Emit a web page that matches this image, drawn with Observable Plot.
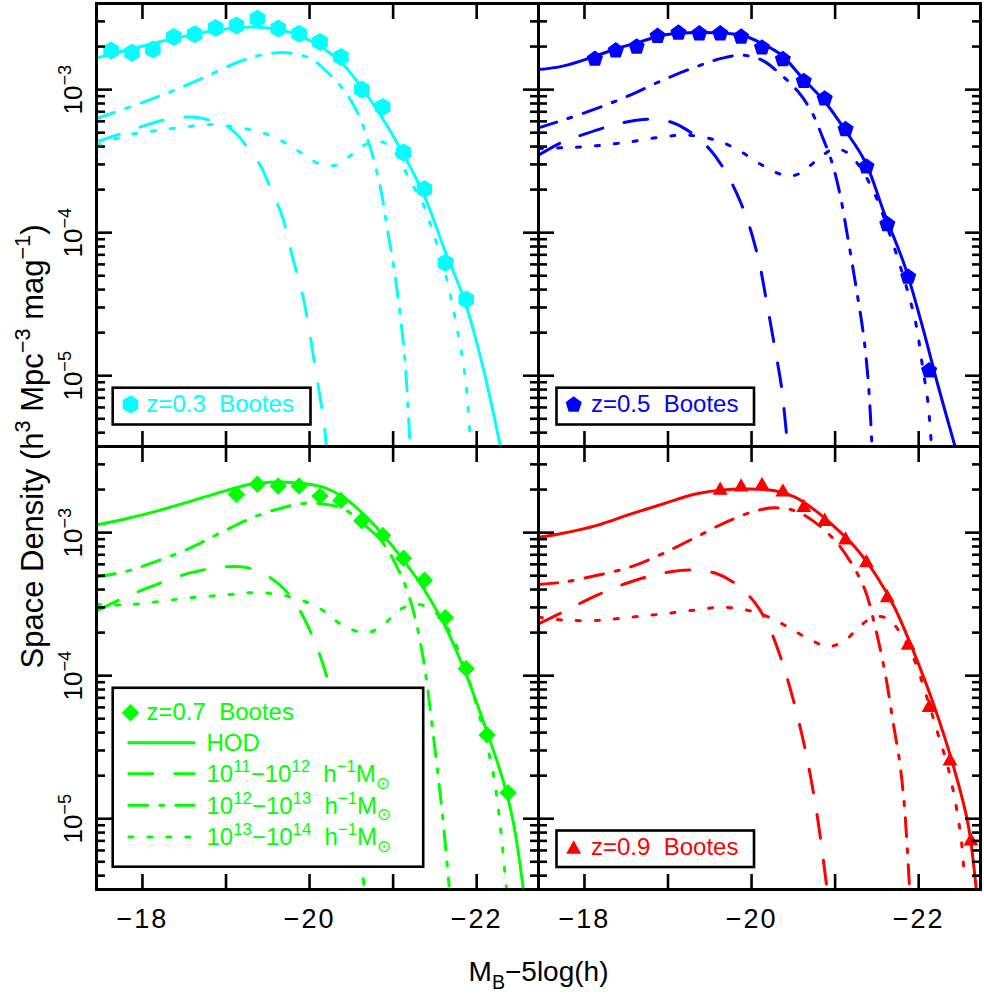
<!DOCTYPE html>
<html>
<head>
<meta charset="utf-8">
<script src="https://cdn.jsdelivr.net/npm/d3@7"></script>
<script src="https://cdn.jsdelivr.net/npm/@observablehq/plot@0.6"></script>
<style>
html, body { margin: 0; padding: 0; background: #fff; }
#chart { position: relative; width: 984px; height: 996px; }
svg text { white-space: pre; }
g[aria-label="legend label"] text { letter-spacing: 1.2px; }
g[aria-label="x-axis tick label"] text { letter-spacing: 2px; }
g[aria-label="y title"] text { letter-spacing: 2.3px; }
g[aria-label="x title"] text { letter-spacing: 1.2px; }
</style>
</head>
<body>
<div id="chart"></div>
<script>
// ---------------- DATA ----------------
// x: M_B - 5 log(h); y: space density (h^3 Mpc^-3 mag^-1)

// z = 0.3 Bootes
const obsMag03 = [-17.625,-17.875,-18.125,-18.375,-18.625,-18.875,-19.125,-19.375,-19.625,-19.875,-20.125,-20.375,-20.625,-20.875,-21.125,-21.375,-21.625,-21.875];
const obsPhi03 = [1.88e-3,1.81e-3,1.91e-3,2.33e-3,2.44e-3,2.70e-3,2.81e-3,3.13e-3,2.67e-3,2.46e-3,2.15e-3,1.69e-3,1.00e-3,7.57e-4,3.63e-4,2.01e-4,6.15e-5,3.41e-5];
const hod03 = [[-17.45,1.66e-3],[-17.87,1.93e-3],[-18.37,2.27e-3],[-18.87,2.59e-3],[-19.29,2.74e-3],[-19.61,2.64e-3],[-19.87,2.40e-3],[-20.17,1.93e-3],[-20.41,1.48e-3],[-20.62,1.04e-3],[-20.85,6.62e-4],[-21.13,3.48e-4],[-21.37,1.83e-4],[-21.61,7.76e-5],[-21.86,3.29e-5],[-22.08,1.12e-5],[-22.28,3.28e-6]];
const m11_03 = [[-17.45,4.31e-4],[-17.98,5.48e-4],[-18.24,6.11e-4],[-18.54,6.44e-4],[-18.70,6.34e-4],[-18.84,6.01e-4],[-19.02,5.48e-4],[-19.14,4.80e-4],[-19.25,3.98e-4],[-19.41,2.96e-4],[-19.55,1.93e-4],[-19.67,1.32e-4],[-19.79,6.97e-5],[-19.93,3.38e-5],[-20.05,1.32e-5],[-20.17,4.78e-6],[-20.20,3.3e-6]];
const m12_03 = [[-17.45,6.27e-4],[-18.02,8.20e-4],[-18.38,9.89e-4],[-18.70,1.19e-3],[-19.10,1.52e-3],[-19.37,1.72e-3],[-19.61,1.81e-3],[-19.77,1.80e-3],[-20.01,1.65e-3],[-20.21,1.33e-3],[-20.41,9.89e-4],[-20.57,6.98e-4],[-20.73,3.87e-4],[-20.85,2.03e-4],[-20.93,1.07e-4],[-21.01,5.62e-5],[-21.09,2.51e-5],[-21.15,1.12e-5],[-21.20,3.46e-6]];
const m13_03 = [[-17.45,4.08e-4],[-17.82,4.80e-4],[-18.20,5.20e-4],[-18.62,5.57e-4],[-18.84,5.70e-4],[-19.02,5.57e-4],[-19.21,5.35e-4],[-19.41,5.06e-4],[-19.61,4.55e-4],[-19.77,4.05e-4],[-19.93,3.52e-4],[-20.11,3.04e-4],[-20.31,2.96e-4],[-20.47,3.39e-4],[-20.65,4.08e-4],[-20.81,4.36e-4],[-20.95,4.08e-4],[-21.09,3.13e-4],[-21.21,2.26e-4],[-21.33,1.73e-4],[-21.49,9.62e-5],[-21.63,5.05e-5],[-21.75,2.38e-5],[-21.86,1.01e-5],[-21.92,3.85e-6]];

// z = 0.5 Bootes
const obsMag05 = [-18.125,-18.375,-18.625,-18.875,-19.125,-19.375,-19.625,-19.875,-20.125,-20.375,-20.625,-20.875,-21.125,-21.375,-21.625,-21.875,-22.125];
const obsPhi05 = [1.66e-3,1.90e-3,2.02e-3,2.40e-3,2.53e-3,2.50e-3,2.50e-3,2.37e-3,1.99e-3,1.65e-3,1.16e-3,8.75e-4,5.35e-4,2.93e-4,1.16e-4,4.97e-5,1.10e-5];
const hod05 = [[-17.45,1.38e-3],[-17.74,1.46e-3],[-18.06,1.66e-3],[-18.38,1.93e-3],[-18.66,2.15e-3],[-18.93,2.40e-3],[-19.25,2.50e-3],[-19.57,2.50e-3],[-19.89,2.40e-3],[-20.13,2.09e-3],[-20.36,1.74e-3],[-20.60,1.22e-3],[-20.88,8.20e-4],[-21.12,5.20e-4],[-21.36,3.13e-4],[-21.59,1.36e-4],[-21.83,5.93e-5],[-22.03,2.38e-5],[-22.23,8.61e-6],[-22.43,3.28e-6]];
const m11_05 = [[-17.45,3.48e-4],[-17.74,4.31e-4],[-18.02,4.93e-4],[-18.34,5.64e-4],[-18.62,6.11e-4],[-18.77,6.21e-4],[-19.05,5.89e-4],[-19.29,4.93e-4],[-19.51,3.77e-4],[-19.69,2.66e-4],[-19.85,1.73e-4],[-19.97,1.13e-4],[-20.09,6.25e-5],[-20.18,3.29e-5],[-20.28,1.55e-5],[-20.36,8.17e-6],[-20.43,3.28e-6]];
const m12_05 = [[-17.45,5.40e-4],[-17.74,6.11e-4],[-18.14,7.36e-4],[-18.54,9.12e-4],[-18.93,1.16e-3],[-19.33,1.44e-3],[-19.65,1.66e-3],[-19.89,1.74e-3],[-20.13,1.60e-3],[-20.36,1.26e-3],[-20.56,9.64e-4],[-20.72,6.98e-4],[-20.84,4.80e-4],[-20.96,3.13e-4],[-21.06,1.83e-4],[-21.16,8.63e-5],[-21.26,3.86e-5],[-21.34,1.92e-5],[-21.40,8.61e-6],[-21.44,3.28e-6]];
const m13_05 = [[-17.45,3.87e-4],[-17.74,3.92e-4],[-18.14,4.05e-4],[-18.54,4.31e-4],[-18.93,4.67e-4],[-19.25,4.80e-4],[-19.57,4.43e-4],[-19.81,3.87e-4],[-20.13,2.96e-4],[-20.36,2.55e-4],[-20.52,2.52e-4],[-20.68,2.88e-4],[-20.84,3.44e-4],[-21.00,3.87e-4],[-21.16,3.57e-4],[-21.32,2.74e-4],[-21.48,1.83e-4],[-21.63,1.07e-4],[-21.75,6.61e-5],[-21.87,3.86e-5],[-21.97,2.26e-5],[-22.05,1.12e-5],[-22.11,6.58e-6],[-22.15,3.46e-6]];

// z = 0.7 Bootes
const obsMag07 = [-19.125,-19.375,-19.625,-19.875,-20.125,-20.375,-20.625,-20.875,-21.125,-21.375,-21.625,-21.875,-22.125,-22.375];
const obsPhi07 = [1.85e-3,2.18e-3,2.12e-3,2.12e-3,1.80e-3,1.68e-3,1.21e-3,9.57e-4,6.62e-4,4.65e-4,2.55e-4,1.12e-4,3.85e-5,1.52e-5];
const hod07 = [[-17.45,1.13e-3],[-17.78,1.24e-3],[-18.18,1.42e-3],[-18.58,1.66e-3],[-18.98,1.95e-3],[-19.29,2.18e-3],[-19.61,2.26e-3],[-19.93,2.20e-3],[-20.17,2.07e-3],[-20.41,1.76e-3],[-20.65,1.34e-3],[-20.89,9.48e-4],[-21.13,6.34e-4],[-21.37,4.02e-4],[-21.61,2.29e-4],[-21.84,1.14e-4],[-22.08,4.79e-5],[-22.32,1.82e-5],[-22.44,9.33e-6],[-22.56,3.16e-6]];
const m11_07 = [[-17.45,2.83e-4],[-17.78,3.51e-4],[-18.18,4.36e-4],[-18.58,5.25e-4],[-18.98,5.75e-4],[-19.25,5.69e-4],[-19.53,4.84e-4],[-19.77,3.61e-4],[-19.93,2.55e-4],[-20.09,1.57e-4],[-20.21,9.68e-5],[-20.33,5.37e-5],[-20.45,2.67e-5],[-20.55,1.19e-5],[-20.63,4.43e-6],[-20.65,3.48e-6]];
const m12_07 = [[-17.45,4.90e-4],[-17.78,5.31e-4],[-18.18,6.34e-4],[-18.58,7.85e-4],[-18.98,1.03e-3],[-19.37,1.31e-3],[-19.69,1.50e-3],[-19.93,1.60e-3],[-20.17,1.58e-3],[-20.41,1.46e-3],[-20.65,1.14e-3],[-20.89,8.28e-4],[-21.05,5.69e-4],[-21.17,3.91e-4],[-21.29,2.17e-4],[-21.39,1.02e-4],[-21.47,4.33e-5],[-21.55,1.74e-5],[-21.61,8.20e-6],[-21.67,3.38e-6]];
const m13_07 = [[-17.45,3.16e-4],[-17.78,3.12e-4],[-18.18,3.29e-4],[-18.58,3.51e-4],[-18.98,3.66e-4],[-19.29,3.80e-4],[-19.61,3.71e-4],[-19.93,3.33e-4],[-20.17,2.83e-4],[-20.41,2.22e-4],[-20.69,2.00e-4],[-20.89,2.29e-4],[-21.09,2.91e-4],[-21.29,3.16e-4],[-21.49,2.83e-4],[-21.65,2.17e-4],[-21.80,1.41e-4],[-21.96,7.40e-5],[-22.08,4.10e-5],[-22.20,2.04e-5],[-22.28,9.12e-6],[-22.34,4.08e-6],[-22.36,3.1e-6]];

// z = 0.9 Bootes
const obsMag09 = [-19.625,-19.875,-20.125,-20.375,-20.625,-20.875,-21.125,-21.375,-21.625,-21.875,-22.125,-22.375,-22.625];
const obsPhi09 = [2.05e-3,2.16e-3,2.21e-3,1.99e-3,1.55e-3,1.24e-3,9.18e-4,6.37e-4,3.63e-4,1.69e-4,6.19e-5,2.62e-5,7.24e-6];
const hod09 = [[-17.45,9.27e-4],[-17.74,9.89e-4],[-18.14,1.12e-3],[-18.54,1.34e-3],[-18.93,1.58e-3],[-19.33,1.86e-3],[-19.65,1.99e-3],[-19.97,2.02e-3],[-20.28,1.96e-3],[-20.52,1.77e-3],[-20.76,1.43e-3],[-21.00,1.09e-3],[-21.24,7.91e-4],[-21.48,5.14e-4],[-21.71,3.01e-4],[-21.95,1.42e-4],[-22.19,6.03e-5],[-22.43,2.18e-5],[-22.59,9.23e-6],[-22.69,3.16e-6]];
const m11_09 = [[-17.45,2.30e-4],[-17.74,2.78e-4],[-18.14,3.63e-4],[-18.54,4.50e-4],[-18.93,5.20e-4],[-19.25,5.48e-4],[-19.57,5.20e-4],[-19.81,4.38e-4],[-20.05,3.18e-4],[-20.21,2.18e-4],[-20.36,1.28e-4],[-20.48,7.46e-5],[-20.60,3.93e-5],[-20.70,2.06e-5],[-20.80,9.23e-6],[-20.90,3.33e-6]];
const m12_09 = [[-17.45,4.34e-4],[-17.74,4.50e-4],[-18.14,5.01e-4],[-18.54,5.73e-4],[-18.93,7.10e-4],[-19.33,9.27e-4],[-19.73,1.21e-3],[-20.05,1.42e-3],[-20.28,1.49e-3],[-20.52,1.42e-3],[-20.76,1.18e-3],[-21.00,8.79e-4],[-21.20,6.04e-4],[-21.36,3.94e-4],[-21.48,2.18e-4],[-21.60,1.03e-4],[-21.69,4.86e-5],[-21.77,2.55e-5],[-21.83,1.21e-5],[-21.89,3.33e-6]];
const m13_09 = [[-17.45,2.56e-4],[-17.74,2.45e-4],[-18.14,2.43e-4],[-18.54,2.56e-4],[-18.93,2.70e-4],[-19.33,2.88e-4],[-19.65,3.01e-4],[-19.97,2.85e-4],[-20.21,2.56e-4],[-20.44,2.18e-4],[-20.72,1.76e-4],[-20.92,1.60e-4],[-21.12,1.76e-4],[-21.28,2.18e-4],[-21.48,2.59e-4],[-21.63,2.49e-4],[-21.79,1.96e-4],[-21.95,1.28e-4],[-22.11,6.71e-5],[-22.23,3.93e-5],[-22.35,2.30e-5],[-22.45,1.21e-5],[-22.51,7.06e-6],[-22.55,3.71e-6]];

// Labels & ticks
const sampleLabels = ["z=0.3  Bootes", "z=0.5  Bootes", "z=0.7  Bootes", "z=0.9  Bootes"];
const componentLabels = ["HOD", "10^{11}−10^{12}  h^{−1}M_{⊙}", "10^{12}−10^{13}  h^{−1}M_{⊙}", "10^{13}−10^{14}  h^{−1}M_{⊙}"];
const xTicks = [-18, -19, -20, -21, -22];
const xTickLabels = [-18, -20, -22];
const yMajorTicks = [1e-5, 1e-4, 1e-3];
const yMinorTicks = [4e-6,5e-6,6e-6,7e-6,8e-6,9e-6, 2e-5,3e-5,4e-5,5e-5,6e-5,7e-5,8e-5,9e-5, 2e-4,3e-4,4e-4,5e-4,6e-4,7e-4,8e-4,9e-4, 2e-3,3e-3];
const xDomain = [-17.45, -22.74];
const yDomain = [3.2e-6, 4.0e-3];
const xTitle = "M_{B}−5log(h)";
const yTitle = "Space Density (h^{3} Mpc^{−3} mag^{−1})";

// ---------------- STYLE ----------------
const FONT = "'Liberation Sans', Arial, Helvetica, sans-serif";
const hexagon = {draw(c, size) { const r = Math.sqrt(size / Math.PI); for (let i = 0; i < 6; i++) { const a = Math.PI / 3 * i; const x = r * Math.sin(a), y = -r * Math.cos(a); i ? c.lineTo(x, y) : c.moveTo(x, y); } c.closePath(); }};
const pentagon = {draw(c, size) { const r = Math.sqrt(size / Math.PI); const sh = 0.095 * r; for (let i = 0; i < 5; i++) { const a = 2 * Math.PI / 5 * i; const x = r * Math.sin(a), y = -r * Math.cos(a) + sh; i ? c.lineTo(x, y) : c.moveTo(x, y); } c.closePath(); }};
const diamond = {draw(c, size) { const r = Math.sqrt(size / Math.PI); c.moveTo(0, -r); c.lineTo(r, 0); c.lineTo(0, r); c.lineTo(-r, 0); c.closePath(); }};
const triangle = {draw(c, size) { const r = Math.sqrt(size / Math.PI); c.moveTo(0, -0.8 * r); c.lineTo(0.9 * r, 0.8 * r); c.lineTo(-0.9 * r, 0.8 * r); c.closePath(); }};
const lineShape = {draw(c, l) { c.moveTo(0, 0); c.lineTo(0, -l); }};

const panels = [
  {fx: 0, fy: 0, color: "#00ffff", symbol: hexagon, r: 9.0, label: sampleLabels[0], obsMag: obsMag03, obsPhi: obsPhi03, curves: [hod03, m11_03, m12_03, m13_03],
   box: [16.7, 384.7, 227.5, 21.5], sym: [34, 401], txt: [50, 400.5]},
  {fx: 1, fy: 0, color: "#0000ff", symbol: pentagon, r: 8.5, label: sampleLabels[1], obsMag: obsMag05, obsPhi: obsPhi05, curves: [hod05, m11_05, m12_05, m13_05],
   box: [18.5, 384.7, 226, 21.5], sym: [35.2, 400.5], txt: [52.5, 400.5]},
  {fx: 0, fy: 1, color: "#00ff00", symbol: diamond, r: 8.7, label: sampleLabels[2], obsMag: obsMag07, obsPhi: obsPhi07, curves: [hod07, m11_07, m12_07, m13_07],
   box: [16.7, 241.8, 114.8, 22.3], sym: [34, 266.2], txt: [50, 265.5], full: true},
  {fx: 1, fy: 1, color: "#ff0000", symbol: triangle, r: 8.3, label: sampleLabels[3], obsMag: obsMag09, obsPhi: obsPhi09, curves: [hod09, m11_09, m12_09, m13_09],
   box: [18.5, 384.5, 226, 22], sym: [35.2, 400.5], txt: [52.5, 401]}
];
const dashes = [null, "24,22", "19,12,4,12", "4,15"];
const legendRowsY = [296.5, 327.5, 359, 390.8];

// ---------------- MARKS ----------------
const marks = [];
for (const p of panels) {
  const F = {fx: p.fx, fy: p.fy};
  p.curves.forEach((pairs, k) => {
    marks.push(Plot.line(pairs.map(([m, v]) => ({...F, m, v})), {
      x: "m", y: "v", fx: "fx", fy: "fy", stroke: p.color, strokeWidth: 3,
      strokeDasharray: dashes[k] || undefined, curve: "catmull-rom", clip: true
    }));
  });
  marks.push(Plot.dot(p.obsMag.map((m, i) => ({...F, m, v: p.obsPhi[i]})), {
    x: "m", y: "v", fx: "fx", fy: "fy", symbol: p.symbol, r: p.r, fill: p.color, stroke: "none"
  }));
}
// legends
for (const p of panels) {
  const F = {fx: p.fx, fy: p.fy};
  marks.push(Plot.rect([F], {fx: "fx", fy: "fy", fill: "white", stroke: "black", strokeWidth: 2.6,
    insetLeft: p.box[0], insetTop: p.box[1], insetRight: p.box[2], insetBottom: p.box[3]}));
  marks.push(Plot.dot([F], {fx: "fx", fy: "fy", frameAnchor: "top-left", dx: p.sym[0], dy: p.sym[1], symbol: p.symbol, r: p.r, fill: p.color, stroke: "none"}));
  marks.push(Plot.text([{...F, t: p.label}], {fx: "fx", fy: "fy", frameAnchor: "top-left", dx: p.txt[0], dy: p.txt[1], text: "t",
    fill: p.color, fontSize: 24, textAnchor: "start", lineAnchor: "middle", ariaLabel: "legend label"}));
  if (p.full) {
    componentLabels.forEach((lab, k) => {
      marks.push(Plot.vector([F], {fx: "fx", fy: "fy", frameAnchor: "top-left", dx: 32.3, dy: legendRowsY[k] - 0.3, length: 65.4, rotate: 90,
        anchor: "start", shape: lineShape, stroke: p.color, strokeWidth: 3, strokeDasharray: dashes[k] || undefined}));
      marks.push(Plot.text([{...F, t: lab}], {fx: "fx", fy: "fy", frameAnchor: "top-left", dx: 110, dy: legendRowsY[k] + 0.5, text: "t",
        fill: p.color, fontSize: 24, textAnchor: "start", lineAnchor: "middle", ariaLabel: "legend label"}));
    });
  }
}
// frame and inward ticks on all four sides of every panel
const tk = {facetAnchor: null, label: null, tickFormat: () => "", fill: "none", stroke: "black", strokeWidth: 2.6};
marks.push(
  Plot.frame({stroke: "black", strokeWidth: 3}),
  Plot.axisX({...tk, anchor: "bottom", ticks: xTicks, tickSize: -15}),
  Plot.axisX({...tk, anchor: "top", ticks: xTicks, tickSize: -15}),
  Plot.axisY({...tk, anchor: "left", ticks: yMajorTicks, tickSize: -16}),
  Plot.axisY({...tk, anchor: "left", ticks: yMinorTicks, tickSize: -9}),
  Plot.axisY({...tk, anchor: "right", ticks: yMajorTicks, tickSize: -16}),
  Plot.axisY({...tk, anchor: "right", ticks: yMinorTicks, tickSize: -9}),
  // tick labels
  Plot.axisX({anchor: "bottom", ticks: xTickLabels, tickSize: 0, tickPadding: 19, label: null,
    tickFormat: d => "−" + Math.abs(d), fontSize: 27}),
  Plot.axisY({anchor: "left", ticks: yMajorTicks, tickSize: 0, tickPadding: 23, tickRotate: -90, label: null,
    textAnchor: "middle", lineAnchor: "middle",
    tickFormat: d => "10^{−" + Math.round(-Math.log10(d)) + "}", fontSize: 26}),
  // axis titles
  Plot.text([{fx: 0, fy: 0, t: yTitle}], {fx: "fx", fy: "fy", frameAnchor: "bottom-left", dx: -63, rotate: -90,
    text: "t", fontSize: 31, textAnchor: "middle", lineAnchor: "middle", ariaLabel: "y title"}),
  Plot.text([{fx: 0, fy: 1, t: xTitle}], {fx: "fx", fy: "fy", frameAnchor: "bottom-right", dy: 83,
    text: "t", fontSize: 28, textAnchor: "middle", lineAnchor: "middle", ariaLabel: "x title"})
);

const chart = Plot.plot({
  width: 984, height: 996,
  marginLeft: 95, marginRight: 4, marginTop: 2, marginBottom: 107,
  style: {fontFamily: FONT, fontSize: "24px", background: "white", color: "black", overflow: "visible"},
  x: {domain: xDomain},
  y: {type: "log", domain: yDomain},
  fx: {domain: [0, 1], padding: 0, axis: null, label: null},
  fy: {domain: [0, 1], padding: 0, axis: null, label: null},
  marks
});
document.getElementById("chart").appendChild(chart);

// rich text: ^{..} superscript, _{..} subscript
function richify(svg) {
  const NS = "http://www.w3.org/2000/svg";
  svg.querySelectorAll("text").forEach(el => {
    const s = el.textContent;
    if (!/[\^_]\{/.test(s)) return;
    const fs = parseFloat(getComputedStyle(el).fontSize) || 24;
    const parts = [];
    const re = /([\^_])\{([^}]*)\}/g;
    let last = 0, m;
    while ((m = re.exec(s))) {
      if (m.index > last) parts.push({t: s.slice(last, m.index), k: ""});
      parts.push({t: m[2], k: m[1]});
      last = re.lastIndex;
    }
    if (last < s.length) parts.push({t: s.slice(last), k: ""});
    while (el.firstChild) el.removeChild(el.firstChild);
    let cur = 0;
    for (const p of parts) {
      const off = p.k === "^" ? -0.42 * fs : p.k === "_" ? 0.28 * fs : 0;
      const ts = document.createElementNS(NS, "tspan");
      if (off !== cur) ts.setAttribute("dy", (off - cur).toFixed(2));
      if (p.k) ts.setAttribute("font-size", (0.7 * fs).toFixed(1));
      ts.textContent = p.t;
      el.appendChild(ts);
      cur = off;
    }
  });
}
richify(chart);
</script>
</body>
</html>
